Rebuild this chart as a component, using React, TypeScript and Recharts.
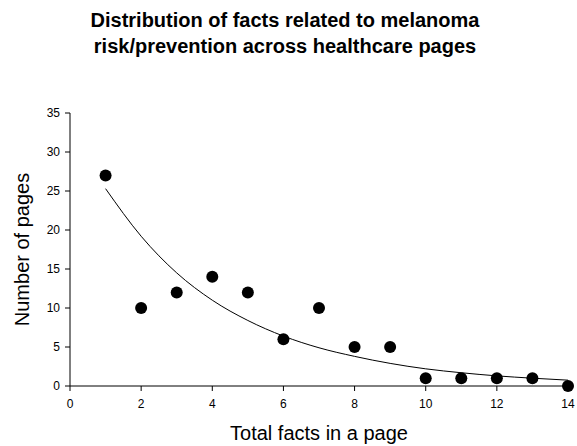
import { ComposedChart, Scatter, Line, XAxis, YAxis, Label } from "recharts";

const facts = [1, 2, 3, 4, 5, 6, 7, 8, 9, 10, 11, 12, 13, 14];
const pages = [27, 10, 12, 14, 12, 6, 10, 5, 5, 1, 1, 1, 1, 0];
// fitted decay curve at each x
const fitted = [25.3, 19.2, 14.5, 11.0, 8.4, 6.4, 4.9, 3.8, 2.9, 2.2, 1.7, 1.3, 1.0, 0.75];

const xTicks = [0, 2, 4, 6, 8, 10, 12, 14];
const yTicks = [0, 5, 10, 15, 20, 25, 30, 35];

const font = "Arial, 'Liberation Sans', sans-serif";

const rows = facts.map((x, i) => ({ x, pages: pages[i], fit: fitted[i] }));

const Dot = (props: any) => <circle cx={props.cx} cy={props.cy} r={6} fill="#000" />;

export default function App() {
  return (
    <div style={{ position: "absolute", left: 0, top: 0, width: 577, height: 446, background: "#fff", fontFamily: font }}>
      <div
        style={{
          position: "absolute",
          left: 0,
          top: 7,
          width: 570,
          textAlign: "center",
          fontWeight: "bold",
          fontSize: 20,
          lineHeight: "26px",
          color: "#000",
        }}
      >
        Distribution of facts related to melanoma
        <br />
        risk/prevention across healthcare pages
      </div>
      <ComposedChart width={577} height={446} data={rows} margin={{ top: 113, right: 9, bottom: 0, left: 0 }}>
        <XAxis
          type="number"
          dataKey="x"
          domain={[0, 14]}
          ticks={xTicks}
          height={60}
          stroke="#000"
          tickSize={5}
          tickMargin={8}
          tick={{ fill: "#000", fontSize: 12, fontFamily: font }}
        >
          <Label value="Total facts in a page" position="insideBottom" offset={6} style={{ fill: "#000", fontSize: 20, fontFamily: font }} />
        </XAxis>
        <YAxis
          type="number"
          domain={[0, 35]}
          ticks={yTicks}
          width={70}
          stroke="#000"
          tickSize={5}
          tickMargin={5}
          tick={{ fill: "#000", fontSize: 12, fontFamily: font }}
        >
          <Label
            value="Number of pages"
            angle={-90}
            position="insideLeft"
            offset={22}
            style={{ fill: "#000", fontSize: 20, fontFamily: font, textAnchor: "middle" }}
          />
        </YAxis>
        <Line type="monotone" dataKey="fit" stroke="#000" strokeWidth={1} dot={false} isAnimationActive={false} />
        <Scatter dataKey="pages" shape={Dot} isAnimationActive={false} />
      </ComposedChart>
    </div>
  );
}
